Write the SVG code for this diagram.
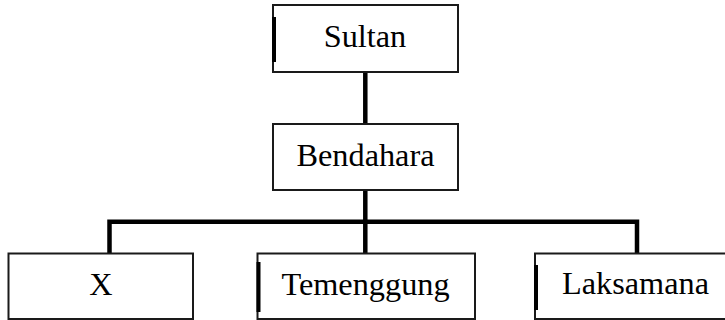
<svg xmlns="http://www.w3.org/2000/svg" width="725" height="320" viewBox="0 0 725 320">
<style>
.box{fill:#fff;stroke:#1a1a1a;stroke-width:2}
.edge{stroke:#000;stroke-width:4}
.lbl{font-family:"Liberation Serif","Times New Roman",serif;font-size:32.3px;fill:#000;text-anchor:middle}
.conn{fill:none;stroke:#000;stroke-width:4.5;stroke-linejoin:miter;stroke-linecap:butt}
</style>
<rect width="725" height="320" fill="#fff"/>
<g id="connectors">
<line class="conn" x1="365.3" y1="72" x2="365.3" y2="124"/>
<line class="conn" x1="365.3" y1="190" x2="365.3" y2="253"/>
<polyline class="conn" points="109.5,253 109.5,221.7 637,221.7 637,253"/>
</g>
<g id="sultan">
<rect class="box" x="273" y="5" width="185" height="67"/>
<line class="edge" x1="274" y1="17" x2="274" y2="62"/>
<text class="lbl" x="365" y="47">Sultan</text>
</g>
<g id="bendahara">
<rect class="box" x="273" y="124" width="185" height="66"/>
<text class="lbl" x="365.5" y="166">Bendahara</text>
</g>
<g id="x">
<rect class="box" x="8.5" y="253.5" width="184.5" height="65.5"/>
<text class="lbl" x="101" y="295">X</text>
</g>
<g id="temenggung">
<rect class="box" x="257.5" y="253.5" width="217.5" height="65.5"/>
<line class="edge" x1="258.5" y1="262" x2="258.5" y2="312"/>
<text class="lbl" x="365.5" y="295">Temenggung</text>
</g>
<g id="laksamana">
<rect class="box" x="535" y="253.5" width="200" height="65.5"/>
<line class="edge" x1="536" y1="265" x2="536" y2="310"/>
<text class="lbl" x="635.5" y="294">Laksamana</text>
</g>
</svg>
